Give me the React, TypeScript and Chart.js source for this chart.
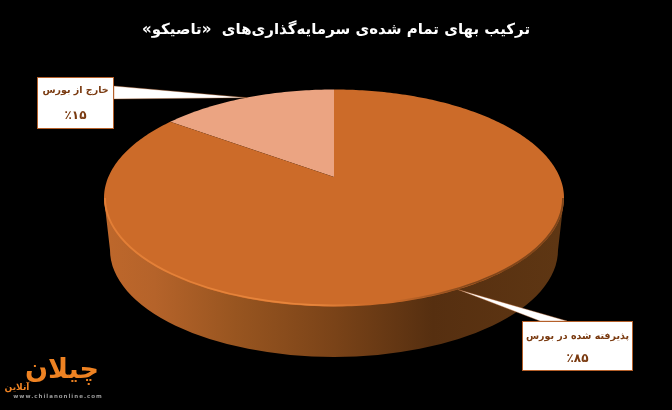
import React, { useEffect, useRef } from "react";
import { Chart, registerables } from "chart.js";

Chart.register(...registerables);

const titleText = "ترکیب بهای تمام شده‌ی سرمایه‌گذاری‌های  «تاصیکو»";
const categories = ["خارج از بورس", "پذیرفته شده در بورس"];
const seriesValues = [15, 85];
const percentLabels = ["٪۱۵", "٪۸۵"];
const sliceColors = ["#EBA482", "#CC6B29"];

const FONT = '"DejaVu Sans", sans-serif';

// perspective view of the disc
const CX = 334, CY = 198, RX = 230, RY = 108.5, TILT = -0.194;
const BOTTOM_CX = 334, BOTTOM_CY = 250, BOTTOM_RX = 224, BOTTOM_RY = 107;

function project(angle: number, r = 1): [number, number] {
  const x = r * Math.cos(angle);
  const y = r * Math.sin(angle);
  const d = 1 + TILT * y;
  return [
    CX + (RX * x * Math.sqrt(1 - TILT * TILT)) / d,
    CY + (RY * (y + TILT)) / d,
  ];
}

const boxes = [
  { x: 37, y: 77, w: 77, h: 52, baseA: [114, 86], baseB: [114, 99], t1: 91, t2: 116 },
  { x: 522, y: 321, w: 111, h: 50, baseA: [540, 321], baseB: [567, 321], t1: 337, t2: 359 },
];

const discPlugin = {
  id: "disc",
  beforeDatasetsDraw(chart: any) {
    const ctx: CanvasRenderingContext2D = chart.ctx;
    const arcs = chart.getDatasetMeta(0).data;
    ctx.save();

    // side wall
    const side = ctx.createLinearGradient(110, 0, 558, 0);
    side.addColorStop(0, "#BD672B");
    side.addColorStop(0.1, "#B5632A");
    side.addColorStop(0.28, "#985520");
    side.addColorStop(0.5, "#7A4318");
    side.addColorStop(0.72, "#562F10");
    side.addColorStop(1, "#5E3613");
    ctx.fillStyle = side;
    ctx.beginPath();
    ctx.moveTo(CX - RX, CY);
    ctx.lineTo(BOTTOM_CX - BOTTOM_RX, BOTTOM_CY);
    ctx.ellipse(BOTTOM_CX, BOTTOM_CY, BOTTOM_RX, BOTTOM_RY, 0, Math.PI, 0, true);
    ctx.lineTo(CX + RX, CY);
    ctx.closePath();
    ctx.fill();

    // top face, one path per slice from the library's arc angles
    arcs.forEach((arc: any) => {
      const a0 = arc.startAngle;
      const a1 = arc.endAngle;
      const steps = Math.max(8, Math.ceil((a1 - a0) * 60));
      ctx.beginPath();
      const c = project(0, 0);
      ctx.moveTo(c[0], c[1]);
      for (let i = 0; i <= steps; i++) {
        const p = project(a0 + ((a1 - a0) * i) / steps);
        ctx.lineTo(p[0], p[1]);
      }
      ctx.closePath();
      ctx.fillStyle = arc.options.backgroundColor;
      ctx.fill();
    });

    // rim highlight on the lit side, soft shade on the dark side
    const rim = ctx.createLinearGradient(CX - RX, 0, CX + RX, 0);
    rim.addColorStop(0, "rgba(226,126,54,1)");
    rim.addColorStop(0.45, "rgba(232,134,60,1)");
    rim.addColorStop(0.58, "rgba(232,134,60,0)");
    rim.addColorStop(0.62, "rgba(96,54,20,0)");
    rim.addColorStop(0.8, "rgba(96,54,20,0.7)");
    rim.addColorStop(1, "rgba(96,54,20,0.7)");
    ctx.strokeStyle = rim;
    ctx.lineWidth = 1.8;
    ctx.beginPath();
    ctx.ellipse(CX, CY, RX - 1, RY - 1, 0, Math.PI, 0, true);
    ctx.stroke();

    // callouts, pointing at each slice's middle angle
    arcs.forEach((arc: any, i: number) => {
      const b = boxes[i];
      const tip = project((arc.startAngle + arc.endAngle) / 2);
      ctx.beginPath();
      ctx.moveTo(b.baseA[0], b.baseA[1]);
      ctx.lineTo(tip[0], tip[1]);
      ctx.lineTo(b.baseB[0], b.baseB[1]);
      ctx.closePath();
      ctx.fillStyle = "#FFFFFF";
      ctx.fill();
      ctx.strokeStyle = "rgba(181,96,42,0.55)";
      ctx.lineWidth = 0.7;
      ctx.stroke();
      ctx.fillStyle = "#FFFFFF";
      ctx.fillRect(b.x, b.y, b.w, b.h);
      ctx.strokeStyle = "#B5602A";
      ctx.lineWidth = 1;
      ctx.strokeRect(b.x + 0.5, b.y + 0.5, b.w - 1, b.h - 1);
      ctx.fillStyle = "#7A3A10";
      ctx.textAlign = "center";
      ctx.textBaseline = "middle";
      ctx.font = `bold 9.5px ${FONT}`;
      ctx.fillText(categories[i], b.x + b.w / 2, b.t1);
      ctx.font = `bold 12px ${FONT}`;
      ctx.fillText(percentLabels[i], b.x + b.w / 2, b.t2);
    });

    // logo
    ctx.textAlign = "center";
    ctx.textBaseline = "middle";
    ctx.fillStyle = "#EE8222";
    ctx.font = `bold 27px ${FONT}`;
    ctx.fillText("چیلان", 62, 371);
    ctx.font = `bold 9px ${FONT}`;
    ctx.fillText("آنلاین", 17, 388);
    ctx.fillStyle = "#9A9A9A";
    ctx.font = `bold 5.5px ${FONT}`;
    ctx.direction = "ltr";
    (ctx as any).letterSpacing = "1px";
    ctx.fillText("www.chilanonline.com", 58, 397);
    ctx.restore();
    return false;
  },
};

export default function App() {
  const ref = useRef<HTMLCanvasElement>(null);
  useEffect(() => {
    const chart = new Chart(ref.current!, {
      type: "pie",
      data: {
        labels: categories,
        datasets: [{ data: seriesValues, backgroundColor: sliceColors, borderWidth: 0 }],
      },
      options: {
        animation: false,
        responsive: false,
        events: [],
        rotation: -(seriesValues[0] / (seriesValues[0] + seriesValues[1])) * 360,
        plugins: {
          legend: { display: false },
          tooltip: { enabled: false },
          title: {
            display: true,
            text: titleText,
            color: "#FFFFFF",
            font: { family: FONT, size: 15, weight: "bold" },
            padding: { top: 21, bottom: 8 },
          },
        },
      },
      plugins: [discPlugin],
    } as any);
    return () => chart.destroy();
  }, []);
  return (
    <div style={{ position: "fixed", left: 0, top: 0, width: 672, height: 410, background: "#000" }}>
      <canvas ref={ref} width={672} height={410} dir="rtl" style={{ display: "block", direction: "rtl" }} />
    </div>
  );
}
